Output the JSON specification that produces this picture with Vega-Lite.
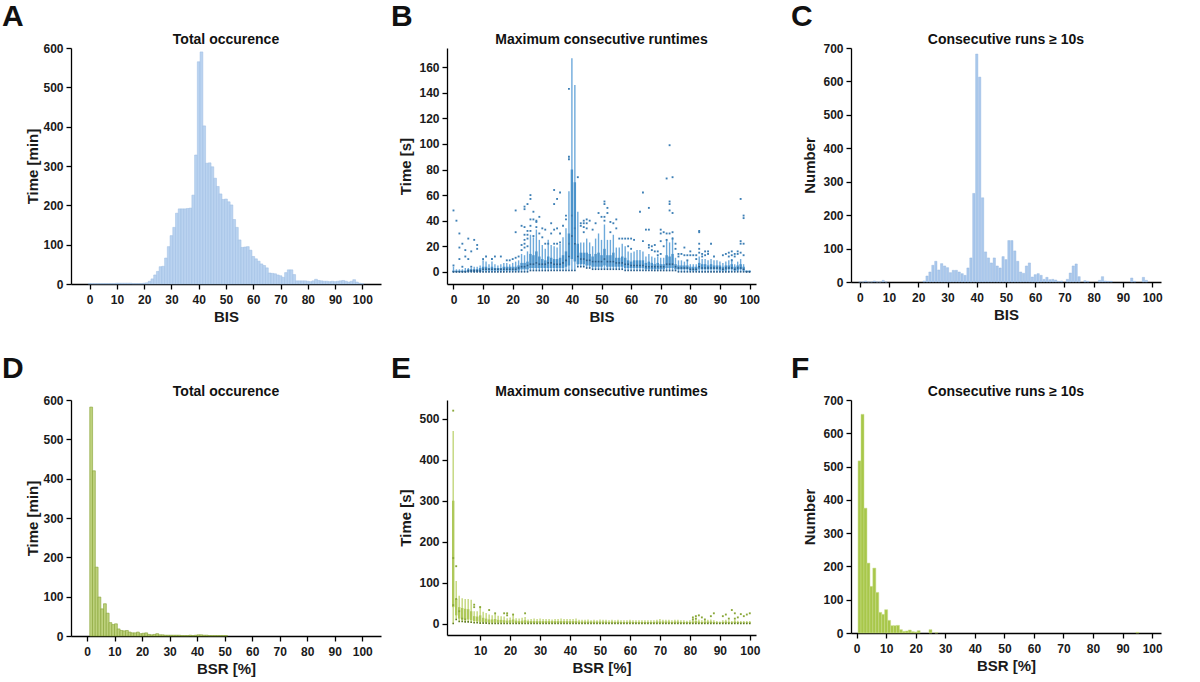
{
  "$schema": "https://vega.github.io/schema/vega-lite/v6.json",
  "background": "white",
  "padding": {"left": 1, "top": 2, "right": 5, "bottom": 5},
  "config": {
    "font": "Liberation Sans",
    "view": {"stroke": null},
    "axis": {
      "grid": false, "domainColor": "#000", "domainWidth": 1.3, "tickColor": "#000", "tickWidth": 1.3, "tickSize": 5,
      "labelFontSize": 12, "labelFontWeight": "bold", "labelColor": "#1a1a1a", "labelOverlap": false,
      "titleFontSize": 15, "titleFontWeight": "bold", "titleColor": "#1a1a1a", "labelPadding": 3
    },
    "axisX": {"labelPadding": 5, "titlePadding": 4, "labelFlush": false},
    "axisY": {"titlePadding": 5},
    "title": {"fontSize": 14, "fontWeight": "bold", "color": "#111", "offset": -5}
  },
  "datasets": {
    "a": [
      {"bis":0,"t":1},{"bis":1,"t":1},{"bis":2,"t":1},{"bis":3,"t":1},{"bis":4,"t":1},{"bis":5,"t":1},{"bis":6,"t":1},{"bis":7,"t":1},{"bis":8,"t":1},{"bis":9,"t":1},
      {"bis":10,"t":2},{"bis":11,"t":2},{"bis":12,"t":2},{"bis":13,"t":2},{"bis":14,"t":2},{"bis":15,"t":2},{"bis":16,"t":1},{"bis":17,"t":1},{"bis":18,"t":1},{"bis":19,"t":1},
      {"bis":20,"t":2},{"bis":21,"t":3},{"bis":22,"t":7},{"bis":23,"t":13},{"bis":24,"t":23},{"bis":25,"t":32},{"bis":26,"t":44},{"bis":27,"t":45},{"bis":28,"t":66},{"bis":29,"t":95},
      {"bis":30,"t":123},{"bis":31,"t":144},{"bis":32,"t":180},{"bis":33,"t":191},{"bis":34,"t":191},{"bis":35,"t":191},{"bis":36,"t":192},{"bis":37,"t":193},{"bis":38,"t":226},{"bis":39,"t":328},
      {"bis":40,"t":565},{"bis":41,"t":590},{"bis":42,"t":402},{"bis":43,"t":307},{"bis":44,"t":308},{"bis":45,"t":298},{"bis":46,"t":269},{"bis":47,"t":248},{"bis":48,"t":229},{"bis":49,"t":215},
      {"bis":50,"t":216},{"bis":51,"t":209},{"bis":52,"t":201},{"bis":53,"t":164},{"bis":54,"t":144},{"bis":55,"t":112},{"bis":56,"t":93},{"bis":57,"t":94},{"bis":58,"t":95},{"bis":59,"t":86},
      {"bis":60,"t":70},{"bis":61,"t":64},{"bis":62,"t":58},{"bis":63,"t":51},{"bis":64,"t":47},{"bis":65,"t":41},{"bis":66,"t":28},{"bis":67,"t":27},{"bis":68,"t":26},{"bis":69,"t":23},
      {"bis":70,"t":21},{"bis":71,"t":17},{"bis":72,"t":29},{"bis":73,"t":36},{"bis":74,"t":36},{"bis":75,"t":24},{"bis":76,"t":8},{"bis":77,"t":8},{"bis":78,"t":8},{"bis":79,"t":8},
      {"bis":80,"t":7},{"bis":81,"t":6},{"bis":82,"t":8},{"bis":83,"t":12},{"bis":84,"t":9},{"bis":85,"t":8},{"bis":86,"t":7},{"bis":87,"t":7},{"bis":88,"t":6},{"bis":89,"t":7},
      {"bis":90,"t":6},{"bis":91,"t":7},{"bis":92,"t":8},{"bis":93,"t":9},{"bis":94,"t":7},{"bis":95,"t":5},{"bis":96,"t":7},{"bis":97,"t":11},{"bis":98,"t":5},{"bis":99,"t":2},
      {"bis":100,"t":1}
    ],
    "b": [
      {"bis":0,"lo":0,"q1":0,"med":0,"q3":1,"hi":4},{"bis":1,"lo":0,"q1":0,"med":0,"q3":1,"hi":2},{"bis":2,"lo":0,"q1":0,"med":0,"q3":1,"hi":2},{"bis":3,"lo":0,"q1":0,"med":0,"q3":1,"hi":2},{"bis":4,"lo":0,"q1":0,"med":0,"q3":1,"hi":3},
      {"bis":5,"lo":0,"q1":0,"med":1,"q3":2,"hi":3},{"bis":6,"lo":0,"q1":0,"med":1,"q3":2,"hi":3},{"bis":7,"lo":0,"q1":0,"med":1,"q3":2,"hi":4},{"bis":8,"lo":0,"q1":0,"med":1,"q3":2,"hi":4},{"bis":9,"lo":0,"q1":0,"med":1,"q3":3,"hi":5},
      {"bis":10,"lo":0,"q1":1,"med":2,"q3":4,"hi":9},{"bis":11,"lo":0,"q1":1,"med":2,"q3":4,"hi":8},{"bis":12,"lo":0,"q1":1,"med":2,"q3":3,"hi":6},{"bis":13,"lo":0,"q1":1,"med":2,"q3":4,"hi":8},{"bis":14,"lo":0,"q1":1,"med":2,"q3":3,"hi":6},
      {"bis":15,"lo":0,"q1":1,"med":2,"q3":3,"hi":5},{"bis":16,"lo":0,"q1":1,"med":2,"q3":3,"hi":6},{"bis":17,"lo":0,"q1":1,"med":2,"q3":4,"hi":7},{"bis":18,"lo":0,"q1":1,"med":2,"q3":4,"hi":7},{"bis":19,"lo":0,"q1":1,"med":2,"q3":4,"hi":6},
      {"bis":20,"lo":0,"q1":1,"med":2,"q3":4,"hi":7},{"bis":21,"lo":0,"q1":1,"med":2,"q3":4,"hi":8},{"bis":22,"lo":0,"q1":1,"med":3,"q3":5,"hi":9},{"bis":23,"lo":0,"q1":2,"med":4,"q3":7,"hi":14},{"bis":24,"lo":0,"q1":2,"med":4,"q3":7,"hi":13},
      {"bis":25,"lo":0,"q1":2,"med":5,"q3":8,"hi":16},{"bis":26,"lo":1,"q1":3,"med":6,"q3":14,"hi":29},{"bis":27,"lo":1,"q1":3,"med":6,"q3":13,"hi":27},{"bis":28,"lo":1,"q1":3,"med":7,"q3":16,"hi":33},{"bis":29,"lo":1,"q1":3,"med":6,"q3":12,"hi":25},
      {"bis":30,"lo":1,"q1":3,"med":6,"q3":10,"hi":21},{"bis":31,"lo":1,"q1":3,"med":6,"q3":9,"hi":18},{"bis":32,"lo":1,"q1":3,"med":7,"q3":12,"hi":25},{"bis":33,"lo":1,"q1":3,"med":7,"q3":11,"hi":21},{"bis":34,"lo":1,"q1":3,"med":6,"q3":10,"hi":20},
      {"bis":35,"lo":1,"q1":3,"med":6,"q3":10,"hi":19},{"bis":36,"lo":1,"q1":3,"med":6,"q3":11,"hi":22},{"bis":37,"lo":1,"q1":3,"med":7,"q3":13,"hi":27},{"bis":38,"lo":1,"q1":4,"med":9,"q3":16,"hi":34},{"bis":39,"lo":1,"q1":5,"med":12,"q3":30,"hi":63},
      {"bis":40,"lo":1,"q1":10,"med":28,"q3":80,"hi":167},{"bis":41,"lo":1,"q1":8,"med":22,"q3":70,"hi":146},{"bis":42,"lo":4,"q1":6,"med":12,"q3":22,"hi":47},{"bis":43,"lo":4,"q1":6,"med":10,"q3":15,"hi":23},{"bis":44,"lo":4,"q1":6,"med":10,"q3":15,"hi":23},
      {"bis":45,"lo":3,"q1":5,"med":9,"q3":15,"hi":26},{"bis":46,"lo":3,"q1":5,"med":9,"q3":14,"hi":23},{"bis":47,"lo":2,"q1":4,"med":8,"q3":12,"hi":20},{"bis":48,"lo":2,"q1":4,"med":8,"q3":14,"hi":26},{"bis":49,"lo":2,"q1":4,"med":8,"q3":15,"hi":30},
      {"bis":50,"lo":2,"q1":4,"med":8,"q3":13,"hi":25},{"bis":51,"lo":2,"q1":5,"med":10,"q3":18,"hi":37},{"bis":52,"lo":2,"q1":4,"med":8,"q3":13,"hi":25},{"bis":53,"lo":2,"q1":4,"med":8,"q3":13,"hi":25},{"bis":54,"lo":2,"q1":4,"med":8,"q3":15,"hi":29},
      {"bis":55,"lo":2,"q1":4,"med":7,"q3":11,"hi":19},{"bis":56,"lo":2,"q1":4,"med":7,"q3":11,"hi":19},{"bis":57,"lo":2,"q1":4,"med":7,"q3":12,"hi":22},{"bis":58,"lo":1,"q1":3,"med":6,"q3":11,"hi":20},{"bis":59,"lo":1,"q1":3,"med":6,"q3":9,"hi":16},
      {"bis":60,"lo":1,"q1":3,"med":5,"q3":8,"hi":15},{"bis":61,"lo":1,"q1":3,"med":5,"q3":9,"hi":16},{"bis":62,"lo":1,"q1":3,"med":5,"q3":9,"hi":17},{"bis":63,"lo":1,"q1":3,"med":5,"q3":9,"hi":17},{"bis":64,"lo":1,"q1":3,"med":5,"q3":9,"hi":16},
      {"bis":65,"lo":1,"q1":2,"med":4,"q3":7,"hi":12},{"bis":66,"lo":1,"q1":2,"med":4,"q3":8,"hi":14},{"bis":67,"lo":1,"q1":2,"med":4,"q3":7,"hi":12},{"bis":68,"lo":1,"q1":2,"med":4,"q3":6,"hi":11},{"bis":69,"lo":1,"q1":2,"med":4,"q3":7,"hi":12},
      {"bis":70,"lo":1,"q1":2,"med":4,"q3":6,"hi":11},{"bis":71,"lo":1,"q1":2,"med":4,"q3":6,"hi":11},{"bis":72,"lo":1,"q1":3,"med":6,"q3":13,"hi":25},{"bis":73,"lo":1,"q1":3,"med":6,"q3":12,"hi":23},{"bis":74,"lo":1,"q1":3,"med":6,"q3":14,"hi":27},
      {"bis":75,"lo":1,"q1":2,"med":4,"q3":6,"hi":11},{"bis":76,"lo":0,"q1":2,"med":3,"q3":5,"hi":9},{"bis":77,"lo":0,"q1":2,"med":3,"q3":5,"hi":9},{"bis":78,"lo":0,"q1":2,"med":3,"q3":5,"hi":8},{"bis":79,"lo":0,"q1":2,"med":3,"q3":5,"hi":9},
      {"bis":80,"lo":0,"q1":1,"med":2,"q3":4,"hi":6},{"bis":81,"lo":0,"q1":1,"med":2,"q3":4,"hi":6},{"bis":82,"lo":0,"q1":1,"med":2,"q3":4,"hi":6},{"bis":83,"lo":0,"q1":2,"med":4,"q3":7,"hi":12},{"bis":84,"lo":0,"q1":2,"med":3,"q3":6,"hi":10},
      {"bis":85,"lo":0,"q1":2,"med":3,"q3":6,"hi":10},{"bis":86,"lo":0,"q1":2,"med":3,"q3":5,"hi":9},{"bis":87,"lo":0,"q1":2,"med":3,"q3":6,"hi":10},{"bis":88,"lo":0,"q1":2,"med":3,"q3":5,"hi":9},{"bis":89,"lo":0,"q1":2,"med":3,"q3":5,"hi":9},
      {"bis":90,"lo":0,"q1":1,"med":3,"q3":5,"hi":8},{"bis":91,"lo":0,"q1":1,"med":2,"q3":4,"hi":7},{"bis":92,"lo":0,"q1":1,"med":3,"q3":5,"hi":8},{"bis":93,"lo":0,"q1":2,"med":3,"q3":5,"hi":9},{"bis":94,"lo":0,"q1":2,"med":3,"q3":6,"hi":10},
      {"bis":95,"lo":0,"q1":1,"med":2,"q3":4,"hi":6},{"bis":96,"lo":0,"q1":1,"med":3,"q3":5,"hi":8},{"bis":97,"lo":0,"q1":2,"med":3,"q3":6,"hi":10},{"bis":98,"lo":0,"q1":1,"med":2,"q3":4,"hi":6},{"bis":99,"lo":0,"q1":0,"med":0,"q3":1,"hi":1},
      {"bis":100,"lo":0,"q1":0,"med":0,"q3":1,"hi":1}
    ],
    "bout": [
      {"bis":0,"t":48},{"bis":0,"t":5},{"bis":1,"t":40},{"bis":2,"t":30},{"bis":2,"t":19},{"bis":2,"t":10},{"bis":3,"t":22},{"bis":3,"t":4},{"bis":4,"t":17},{"bis":4,"t":12},
      {"bis":5,"t":26},{"bis":5,"t":10},{"bis":6,"t":16},{"bis":6,"t":4},{"bis":7,"t":25},{"bis":8,"t":21},{"bis":8,"t":18},{"bis":10,"t":10},{"bis":11,"t":12},{"bis":13,"t":10},
      {"bis":14,"t":12},{"bis":16,"t":12},{"bis":18,"t":9},{"bis":19,"t":9},{"bis":20,"t":10},{"bis":21,"t":48},{"bis":21,"t":31},{"bis":21,"t":11},{"bis":22,"t":12},
      {"bis":23,"t":36},{"bis":23,"t":21},{"bis":23,"t":17},{"bis":24,"t":51},{"bis":24,"t":49},{"bis":24,"t":35},{"bis":24,"t":29},{"bis":24,"t":25},{"bis":24,"t":22},{"bis":24,"t":19},
      {"bis":25,"t":53},{"bis":25,"t":32},{"bis":25,"t":29},{"bis":25,"t":26},{"bis":25,"t":20},{"bis":26,"t":60},{"bis":26,"t":57},{"bis":26,"t":41},{"bis":26,"t":36},{"bis":26,"t":32},
      {"bis":27,"t":47},{"bis":27,"t":41},{"bis":27,"t":28},{"bis":28,"t":40},{"bis":28,"t":39},{"bis":28,"t":35},{"bis":29,"t":43},{"bis":29,"t":30},{"bis":30,"t":34},{"bis":30,"t":27},
      {"bis":31,"t":33},{"bis":31,"t":22},{"bis":32,"t":22},{"bis":33,"t":38},{"bis":33,"t":30},{"bis":34,"t":64},{"bis":34,"t":53},{"bis":34,"t":33},{"bis":34,"t":22},
      {"bis":35,"t":57},{"bis":35,"t":34},{"bis":35,"t":22},{"bis":36,"t":62},{"bis":36,"t":30},{"bis":36,"t":23},{"bis":37,"t":36},{"bis":38,"t":44},{"bis":38,"t":41},
      {"bis":39,"t":143},{"bis":39,"t":90},{"bis":39,"t":88},{"bis":39,"t":22},{"bis":40,"t":44},{"bis":41,"t":34},{"bis":42,"t":74},{"bis":43,"t":38},{"bis":43,"t":36},
      {"bis":44,"t":40},{"bis":44,"t":38},{"bis":44,"t":35},{"bis":44,"t":31},{"bis":45,"t":41},{"bis":45,"t":38},{"bis":45,"t":34},{"bis":46,"t":40},{"bis":47,"t":33},{"bis":48,"t":38},
      {"bis":49,"t":46},{"bis":50,"t":43},{"bis":51,"t":55},{"bis":51,"t":53},{"bis":51,"t":43},{"bis":51,"t":40},{"bis":52,"t":50},{"bis":52,"t":46},{"bis":53,"t":39},{"bis":53,"t":31},
      {"bis":54,"t":38},{"bis":55,"t":41},{"bis":55,"t":34},{"bis":56,"t":26},{"bis":57,"t":26},{"bis":58,"t":26},{"bis":59,"t":26},{"bis":59,"t":20},{"bis":60,"t":26},{"bis":60,"t":18},
      {"bis":61,"t":25},{"bis":63,"t":47},{"bis":64,"t":62},{"bis":64,"t":24},{"bis":65,"t":33},{"bis":66,"t":50},{"bis":66,"t":33},{"bis":66,"t":21},{"bis":66,"t":19},
      {"bis":67,"t":20},{"bis":67,"t":17},{"bis":68,"t":21},{"bis":68,"t":16},{"bis":69,"t":16},{"bis":69,"t":13},{"bis":70,"t":33},{"bis":70,"t":30},{"bis":70,"t":24},{"bis":70,"t":14},
      {"bis":71,"t":31},{"bis":71,"t":20},{"bis":72,"t":73},{"bis":72,"t":30},{"bis":72,"t":25},{"bis":73,"t":99},{"bis":73,"t":55},{"bis":73,"t":53},{"bis":73,"t":48},{"bis":73,"t":30},
      {"bis":74,"t":74},{"bis":74,"t":46},{"bis":74,"t":31},{"bis":74,"t":26},{"bis":75,"t":22},{"bis":75,"t":18},{"bis":76,"t":14},{"bis":76,"t":12},{"bis":77,"t":14},
      {"bis":78,"t":19},{"bis":78,"t":13},{"bis":79,"t":13},{"bis":79,"t":9},{"bis":80,"t":16},{"bis":80,"t":13},{"bis":81,"t":13},{"bis":82,"t":13},{"bis":82,"t":10},
      {"bis":83,"t":32},{"bis":83,"t":31},{"bis":83,"t":22},{"bis":83,"t":18},{"bis":83,"t":15},{"bis":84,"t":14},{"bis":84,"t":12},{"bis":85,"t":16},{"bis":85,"t":13},{"bis":86,"t":16},{"bis":86,"t":14},
      {"bis":87,"t":22},{"bis":88,"t":12},{"bis":91,"t":13},{"bis":92,"t":14},{"bis":93,"t":15},{"bis":93,"t":12},{"bis":94,"t":16},{"bis":94,"t":13},{"bis":94,"t":9},
      {"bis":95,"t":14},{"bis":95,"t":12},{"bis":96,"t":16},{"bis":96,"t":14},{"bis":97,"t":57},{"bis":97,"t":24},{"bis":97,"t":22},{"bis":97,"t":15},
      {"bis":98,"t":44},{"bis":98,"t":42},{"bis":98,"t":22},{"bis":98,"t":13}
    ],
    "c": [
      {"bis":0,"n":0},{"bis":1,"n":0},{"bis":2,"n":3},{"bis":3,"n":0},{"bis":4,"n":0},{"bis":5,"n":3},{"bis":6,"n":0},{"bis":7,"n":0},{"bis":8,"n":5},{"bis":9,"n":0},
      {"bis":22,"n":3},{"bis":23,"n":18},{"bis":24,"n":30},{"bis":25,"n":50},{"bis":26,"n":62},{"bis":27,"n":36},{"bis":28,"n":55},{"bis":29,"n":48},
      {"bis":30,"n":43},{"bis":31,"n":28},{"bis":32,"n":35},{"bis":33,"n":35},{"bis":34,"n":30},{"bis":35,"n":25},{"bis":36,"n":20},{"bis":37,"n":42},{"bis":38,"n":72},{"bis":39,"n":265},
      {"bis":40,"n":682},{"bis":41,"n":613},{"bis":42,"n":252},{"bis":43,"n":90},{"bis":44,"n":72},{"bis":45,"n":57},{"bis":46,"n":72},{"bis":47,"n":48},{"bis":48,"n":42},{"bis":49,"n":76},
      {"bis":50,"n":67},{"bis":51,"n":124},{"bis":52,"n":124},{"bis":53,"n":93},{"bis":54,"n":62},{"bis":55,"n":30},{"bis":56,"n":26},{"bis":57,"n":48},{"bis":58,"n":57},{"bis":59,"n":15},
      {"bis":60,"n":22},{"bis":61,"n":25},{"bis":62,"n":20},{"bis":63,"n":8},{"bis":64,"n":14},{"bis":65,"n":7},{"bis":66,"n":8},{"bis":67,"n":6},{"bis":68,"n":2},{"bis":69,"n":3},
      {"bis":71,"n":8},{"bis":72,"n":27},{"bis":73,"n":48},{"bis":74,"n":54},{"bis":75,"n":16},{"bis":77,"n":4},{"bis":78,"n":2},
      {"bis":82,"n":5},{"bis":83,"n":16},{"bis":84,"n":3},{"bis":85,"n":2},{"bis":86,"n":2},
      {"bis":93,"n":12},{"bis":94,"n":2},{"bis":97,"n":14},{"bis":98,"n":5}
    ],
    "d": [
      {"bsr":1,"t":582},{"bsr":2,"t":420},{"bsr":3,"t":175},{"bsr":4,"t":99},{"bsr":5,"t":69},{"bsr":6,"t":82},{"bsr":7,"t":58},{"bsr":8,"t":34},{"bsr":9,"t":29},{"bsr":10,"t":31},
      {"bsr":11,"t":18},{"bsr":12,"t":14},{"bsr":13,"t":13},{"bsr":14,"t":14},{"bsr":15,"t":10},{"bsr":16,"t":8},{"bsr":17,"t":8},{"bsr":18,"t":10},{"bsr":19,"t":6},{"bsr":20,"t":7},
      {"bsr":21,"t":8},{"bsr":22,"t":4},{"bsr":23,"t":3},{"bsr":24,"t":4},{"bsr":25,"t":6},{"bsr":26,"t":3},{"bsr":27,"t":3},{"bsr":28,"t":2},{"bsr":29,"t":2},{"bsr":30,"t":2},
      {"bsr":31,"t":2},{"bsr":32,"t":2},{"bsr":33,"t":2},{"bsr":34,"t":1},{"bsr":35,"t":1},{"bsr":36,"t":1},{"bsr":37,"t":2},{"bsr":38,"t":1},{"bsr":39,"t":2},{"bsr":40,"t":3},
      {"bsr":41,"t":3},{"bsr":42,"t":2},{"bsr":43,"t":2},{"bsr":44,"t":1},{"bsr":45,"t":1},{"bsr":46,"t":1},{"bsr":47,"t":1},{"bsr":48,"t":1},{"bsr":49,"t":1},{"bsr":50,"t":1}
    ],
    "e": [
      {"bsr":1,"lo":0,"q1":40,"med":150,"q3":300,"hi":470},{"bsr":2,"lo":10,"q1":20,"med":35,"q3":60,"hi":104},{"bsr":3,"lo":5,"q1":12,"med":20,"q3":40,"hi":68},{"bsr":4,"lo":5,"q1":10,"med":18,"q3":38,"hi":62},{"bsr":5,"lo":4,"q1":10,"med":17,"q3":36,"hi":60},
      {"bsr":6,"lo":4,"q1":10,"med":17,"q3":35,"hi":60},{"bsr":7,"lo":3,"q1":8,"med":14,"q3":30,"hi":58},{"bsr":8,"lo":2,"q1":6,"med":10,"q3":18,"hi":30},{"bsr":9,"lo":2,"q1":5,"med":9,"q3":17,"hi":30},{"bsr":10,"lo":1,"q1":4,"med":8,"q3":20,"hi":43},
      {"bsr":11,"lo":1,"q1":3,"med":6,"q3":14,"hi":29},{"bsr":12,"lo":1,"q1":3,"med":6,"q3":12,"hi":26},{"bsr":13,"lo":0,"q1":2,"med":5,"q3":10,"hi":22},{"bsr":14,"lo":0,"q1":2,"med":5,"q3":10,"hi":20},{"bsr":15,"lo":0,"q1":2,"med":5,"q3":11,"hi":23},
      {"bsr":16,"lo":0,"q1":2,"med":4,"q3":9,"hi":19},{"bsr":17,"lo":0,"q1":2,"med":4,"q3":9,"hi":18},{"bsr":18,"lo":0,"q1":2,"med":4,"q3":8,"hi":17},{"bsr":19,"lo":0,"q1":2,"med":3,"q3":7,"hi":13},{"bsr":20,"lo":0,"q1":2,"med":4,"q3":8,"hi":15},
      {"bsr":21,"lo":0,"q1":2,"med":5,"q3":10,"hi":23},{"bsr":22,"lo":0,"q1":1,"med":3,"q3":7,"hi":13},{"bsr":23,"lo":0,"q1":1,"med":3,"q3":6,"hi":12},{"bsr":24,"lo":0,"q1":1,"med":3,"q3":7,"hi":14},{"bsr":25,"lo":0,"q1":2,"med":4,"q3":8,"hi":16},
      {"bsr":26,"lo":0,"q1":1,"med":3,"q3":6,"hi":10},{"bsr":27,"lo":0,"q1":1,"med":3,"q3":6,"hi":11},{"bsr":28,"lo":0,"q1":1,"med":3,"q3":6,"hi":12},{"bsr":29,"lo":0,"q1":1,"med":3,"q3":6,"hi":11},{"bsr":30,"lo":0,"q1":1,"med":3,"q3":6,"hi":12},
      {"bsr":31,"lo":0,"q1":1,"med":3,"q3":6,"hi":11},{"bsr":32,"lo":0,"q1":1,"med":3,"q3":6,"hi":11},{"bsr":33,"lo":0,"q1":1,"med":3,"q3":6,"hi":11},{"bsr":34,"lo":0,"q1":1,"med":3,"q3":6,"hi":10},{"bsr":35,"lo":0,"q1":1,"med":3,"q3":6,"hi":11},
      {"bsr":36,"lo":0,"q1":1,"med":3,"q3":6,"hi":11},{"bsr":37,"lo":0,"q1":1,"med":3,"q3":6,"hi":12},{"bsr":38,"lo":0,"q1":1,"med":3,"q3":6,"hi":11},{"bsr":39,"lo":0,"q1":1,"med":3,"q3":6,"hi":11},{"bsr":40,"lo":0,"q1":1,"med":3,"q3":6,"hi":11},
      {"bsr":41,"lo":0,"q1":1,"med":3,"q3":6,"hi":11},{"bsr":42,"lo":0,"q1":1,"med":3,"q3":6,"hi":12},{"bsr":43,"lo":0,"q1":1,"med":3,"q3":5,"hi":9},{"bsr":44,"lo":0,"q1":1,"med":3,"q3":5,"hi":9},{"bsr":45,"lo":0,"q1":1,"med":3,"q3":5,"hi":9},
      {"bsr":46,"lo":0,"q1":1,"med":3,"q3":5,"hi":10},{"bsr":47,"lo":0,"q1":1,"med":2,"q3":5,"hi":8},{"bsr":48,"lo":0,"q1":1,"med":3,"q3":5,"hi":9},{"bsr":49,"lo":0,"q1":1,"med":2,"q3":5,"hi":8},{"bsr":50,"lo":0,"q1":1,"med":3,"q3":5,"hi":10},
      {"bsr":51,"lo":0,"q1":1,"med":2,"q3":5,"hi":9},{"bsr":52,"lo":0,"q1":1,"med":2,"q3":5,"hi":9},{"bsr":53,"lo":0,"q1":1,"med":2,"q3":4,"hi":8},{"bsr":54,"lo":0,"q1":1,"med":2,"q3":5,"hi":9},{"bsr":55,"lo":0,"q1":1,"med":2,"q3":4,"hi":8},
      {"bsr":56,"lo":0,"q1":1,"med":2,"q3":5,"hi":9},{"bsr":57,"lo":0,"q1":1,"med":2,"q3":4,"hi":8},{"bsr":58,"lo":0,"q1":1,"med":2,"q3":4,"hi":8},{"bsr":59,"lo":0,"q1":1,"med":2,"q3":4,"hi":8},{"bsr":60,"lo":0,"q1":1,"med":2,"q3":5,"hi":9},
      {"bsr":61,"lo":0,"q1":1,"med":2,"q3":4,"hi":8},{"bsr":62,"lo":0,"q1":1,"med":2,"q3":4,"hi":8},{"bsr":63,"lo":0,"q1":1,"med":2,"q3":4,"hi":8},{"bsr":64,"lo":0,"q1":1,"med":2,"q3":4,"hi":8},{"bsr":65,"lo":0,"q1":1,"med":2,"q3":4,"hi":8},
      {"bsr":66,"lo":0,"q1":1,"med":2,"q3":4,"hi":8},{"bsr":67,"lo":0,"q1":1,"med":2,"q3":4,"hi":8},{"bsr":68,"lo":0,"q1":1,"med":2,"q3":4,"hi":8},{"bsr":69,"lo":0,"q1":1,"med":2,"q3":5,"hi":9},{"bsr":70,"lo":0,"q1":1,"med":3,"q3":5,"hi":11},
      {"bsr":71,"lo":0,"q1":1,"med":2,"q3":5,"hi":9},{"bsr":72,"lo":0,"q1":1,"med":2,"q3":5,"hi":9},{"bsr":73,"lo":0,"q1":1,"med":2,"q3":5,"hi":9},{"bsr":74,"lo":0,"q1":1,"med":2,"q3":4,"hi":8},{"bsr":75,"lo":0,"q1":1,"med":2,"q3":5,"hi":9},
      {"bsr":76,"lo":0,"q1":1,"med":2,"q3":5,"hi":9},{"bsr":77,"lo":0,"q1":1,"med":2,"q3":4,"hi":8},{"bsr":78,"lo":0,"q1":1,"med":2,"q3":4,"hi":8},{"bsr":79,"lo":0,"q1":1,"med":2,"q3":4,"hi":7},{"bsr":80,"lo":0,"q1":1,"med":2,"q3":4,"hi":8},
      {"bsr":81,"lo":0,"q1":1,"med":2,"q3":5,"hi":10},{"bsr":82,"lo":0,"q1":1,"med":3,"q3":6,"hi":12},{"bsr":83,"lo":0,"q1":1,"med":2,"q3":5,"hi":10},{"bsr":84,"lo":0,"q1":1,"med":2,"q3":4,"hi":8},{"bsr":85,"lo":0,"q1":1,"med":2,"q3":5,"hi":10},
      {"bsr":86,"lo":0,"q1":1,"med":2,"q3":5,"hi":9},{"bsr":87,"lo":0,"q1":1,"med":2,"q3":5,"hi":10},{"bsr":88,"lo":0,"q1":1,"med":2,"q3":4,"hi":8},{"bsr":89,"lo":0,"q1":1,"med":2,"q3":3,"hi":6},{"bsr":90,"lo":0,"q1":1,"med":2,"q3":3,"hi":5},
      {"bsr":91,"lo":0,"q1":1,"med":2,"q3":4,"hi":8},{"bsr":92,"lo":0,"q1":1,"med":2,"q3":5,"hi":9},{"bsr":93,"lo":0,"q1":1,"med":2,"q3":4,"hi":8},{"bsr":94,"lo":0,"q1":1,"med":2,"q3":3,"hi":6},{"bsr":95,"lo":0,"q1":1,"med":2,"q3":5,"hi":9},
      {"bsr":96,"lo":0,"q1":1,"med":2,"q3":4,"hi":7},{"bsr":97,"lo":0,"q1":1,"med":2,"q3":3,"hi":6},{"bsr":98,"lo":0,"q1":1,"med":2,"q3":3,"hi":6},{"bsr":99,"lo":0,"q1":1,"med":2,"q3":3,"hi":6},{"bsr":100,"lo":0,"q1":1,"med":2,"q3":3,"hi":6}
    ],
    "eout": [
      {"bsr":1,"t":520},{"bsr":1,"t":160},{"bsr":1,"t":45},{"bsr":2,"t":140},{"bsr":2,"t":60},{"bsr":3,"t":30},{"bsr":4,"t":12},{"bsr":5,"t":10},
      {"bsr":8,"t":46},{"bsr":8,"t":40},{"bsr":10,"t":40},{"bsr":13,"t":33},{"bsr":15,"t":25},{"bsr":18,"t":25},{"bsr":19,"t":25},{"bsr":19,"t":20},{"bsr":21,"t":22},{"bsr":25,"t":25},
      {"bsr":81,"t":15},{"bsr":81,"t":10},{"bsr":82,"t":18},{"bsr":82,"t":12},{"bsr":83,"t":20},{"bsr":84,"t":15},{"bsr":85,"t":10},{"bsr":87,"t":18},{"bsr":88,"t":25},
      {"bsr":91,"t":18},{"bsr":92,"t":22},{"bsr":93,"t":12},{"bsr":94,"t":33},{"bsr":95,"t":25},{"bsr":95,"t":12},{"bsr":96,"t":15},{"bsr":97,"t":23},{"bsr":98,"t":18},{"bsr":99,"t":22},{"bsr":100,"t":25}
    ],
    "f": [
      {"bsr":1,"n":517},{"bsr":2,"n":657},{"bsr":3,"n":375},{"bsr":4,"n":210},{"bsr":5,"n":140},{"bsr":6,"n":195},{"bsr":7,"n":122},{"bsr":8,"n":62},{"bsr":9,"n":56},{"bsr":10,"n":70},
      {"bsr":11,"n":38},{"bsr":12,"n":22},{"bsr":13,"n":22},{"bsr":14,"n":23},{"bsr":15,"n":10},{"bsr":16,"n":5},{"bsr":17,"n":6},{"bsr":18,"n":9},{"bsr":19,"n":4},{"bsr":20,"n":3},
      {"bsr":21,"n":7},{"bsr":25,"n":10},{"bsr":27,"n":1},{"bsr":95,"n":2}
    ]
  },
  "vconcat": [
    {
      "spacing": 9,
      "hconcat": [
        {
          "title": {"text": "A", "anchor": "start", "frame": "bounds", "fontSize": 30, "offset": 1, "dx": -24},
          "vconcat": [
            {
              "title": "Total occurence",
              "width": 310, "height": 236,
              "data": {"name": "a"},
              "mark": {"type": "bar", "size": 2.8, "fill": "#bad3f0", "stroke": "#9dbde3", "strokeWidth": 0.5},
              "encoding": {
                "x": {"field": "bis", "type": "quantitative", "title": "BIS", "scale": {"domain": [-5, 105], "nice": false, "zero": false}, "axis": {"values": [0,10,20,30,40,50,60,70,80,90,100]}},
                "y": {"field": "t", "type": "quantitative", "title": "Time [min]", "scale": {"domain": [0, 600], "nice": false}, "axis": {"values": [0,100,200,300,400,500,600], "titlePadding": 2}}
              }
            }
          ]
        },
        {
          "spacing": 30,
          "hconcat": [
            {
              "title": {"text": "B", "anchor": "start", "frame": "bounds", "fontSize": 30, "offset": 1, "dx": -8},
              "vconcat": [
                {
                  "title": {"text": "Maximum consecutive runtimes", "offset": 1},
                  "width": 309, "height": 236,
                  "layer": [
                    {
                      "data": {"name": "b"},
                      "mark": {"type": "rule", "color": "#6eaadb", "strokeWidth": 1.4},
                      "encoding": {
                        "x": {"field": "bis", "type": "quantitative", "title": "BIS", "scale": {"domain": [-0.5, 100.5], "nice": false, "zero": false}, "axis": {"values": [0,10,20,30,40,50,60,70,80,90,100]}},
                        "y": {"field": "lo", "type": "quantitative", "title": "Time [s]", "scale": {"domain": [-9.5, 175], "nice": false, "zero": false}, "axis": {"values": [0,20,40,60,80,100,120,140,160]}},
                        "y2": {"field": "hi"}
                      }
                    },
                    {
                      "data": {"name": "b"},
                      "mark": {"type": "bar", "size": 2.4, "color": "#4b93cb"},
                      "encoding": {
                        "x": {"field": "bis", "type": "quantitative", "title": "BIS", "scale": {"domain": [-0.5, 100.5], "nice": false, "zero": false}, "axis": {"values": [0,10,20,30,40,50,60,70,80,90,100]}},
                        "y": {"field": "q1", "type": "quantitative", "title": "Time [s]", "scale": {"domain": [-9.5, 175], "nice": false, "zero": false}, "axis": {"values": [0,20,40,60,80,100,120,140,160]}},
                        "y2": {"field": "q3"}
                      }
                    },
                    {
                      "data": {"name": "b"},
                      "mark": {"type": "square", "size": 2.5, "color": "#2a5d8a", "opacity": 1},
                      "encoding": {
                        "x": {"field": "bis", "type": "quantitative", "title": "BIS", "scale": {"domain": [-0.5, 100.5], "nice": false, "zero": false}, "axis": {"values": [0,10,20,30,40,50,60,70,80,90,100]}},
                        "y": {"field": "med", "type": "quantitative", "title": "Time [s]", "scale": {"domain": [-9.5, 175], "nice": false, "zero": false}, "axis": {"values": [0,20,40,60,80,100,120,140,160]}}
                      }
                    },
                    {
                      "data": {"name": "b"},
                      "mark": {"type": "square", "size": 2.5, "color": "#2a5d8a", "opacity": 1},
                      "encoding": {
                        "x": {"field": "bis", "type": "quantitative", "title": "BIS", "scale": {"domain": [-0.5, 100.5], "nice": false, "zero": false}, "axis": {"values": [0,10,20,30,40,50,60,70,80,90,100]}},
                        "y": {"field": "lo", "type": "quantitative", "title": "Time [s]", "scale": {"domain": [-9.5, 175], "nice": false, "zero": false}, "axis": {"values": [0,20,40,60,80,100,120,140,160]}}
                      }
                    },
                    {
                      "data": {"name": "bout"},
                      "mark": {"type": "square", "size": 3.5, "color": "#3d7fb5", "opacity": 1},
                      "encoding": {
                        "x": {"field": "bis", "type": "quantitative", "title": "BIS", "scale": {"domain": [-0.5, 100.5], "nice": false, "zero": false}, "axis": {"values": [0,10,20,30,40,50,60,70,80,90,100]}},
                        "y": {"field": "t", "type": "quantitative", "title": "Time [s]", "scale": {"domain": [-9.5, 175], "nice": false, "zero": false}, "axis": {"values": [0,20,40,60,80,100,120,140,160]}}
                      }
                    }
                  ]
                }
              ]
            },
            {
              "title": {"text": "C", "anchor": "start", "frame": "bounds", "fontSize": 30, "offset": 1, "dx": -12},
              "vconcat": [
                {
                  "title": "Consecutive runs ≥ 10s",
                  "width": 310, "height": 234,
                  "data": {"name": "c"},
                  "mark": {"type": "bar", "size": 2.3, "fill": "#aac8ec", "stroke": "#8fb3de", "strokeWidth": 0.4},
                  "encoding": {
                    "x": {"field": "bis", "type": "quantitative", "title": "BIS", "scale": {"domain": [-1.3, 101.3], "nice": false, "zero": false}, "axis": {"values": [0,10,20,30,40,50,60,70,80,90,100]}},
                    "y": {"field": "n", "type": "quantitative", "title": "Number", "scale": {"domain": [0, 700], "nice": false}, "axis": {"values": [0,100,200,300,400,500,600,700]}}
                  }
                }
              ]
            }
          ]
        }
      ]
    },
    {
      "spacing": 9,
      "hconcat": [
        {
          "title": {"text": "D", "anchor": "start", "frame": "bounds", "fontSize": 30, "offset": 1, "dx": -24},
          "vconcat": [
            {
              "title": "Total occurence",
              "width": 310, "height": 236,
              "data": {"name": "d"},
              "mark": {"type": "bar", "size": 2.84, "xOffset": 1.4, "fill": "#bdd17c", "stroke": "#86a234", "strokeWidth": 0.6},
              "encoding": {
                "x": {"field": "bsr", "type": "quantitative", "title": "BSR [%]", "scale": {"domain": [-4, 105], "nice": false, "zero": false}, "axis": {"values": [0,10,20,30,40,50,60,70,80,90,100]}},
                "y": {"field": "t", "type": "quantitative", "title": "Time [min]", "scale": {"domain": [0, 600], "nice": false}, "axis": {"values": [0,100,200,300,400,500,600], "titlePadding": 2}}
              }
            }
          ]
        },
        {
          "spacing": 30,
          "hconcat": [
            {
              "title": {"text": "E", "anchor": "start", "frame": "bounds", "fontSize": 30, "offset": 1, "dx": -8},
              "vconcat": [
                {
                  "title": {"text": "Maximum consecutive runtimes", "offset": 1},
                  "width": 309, "height": 235,
                  "layer": [
                    {
                      "data": {"name": "e"},
                      "mark": {"type": "rule", "color": "#c2d67a", "strokeWidth": 1.4},
                      "encoding": {
                        "x": {"field": "bsr", "type": "quantitative", "title": "BSR [%]", "scale": {"domain": [0.6, 100.4], "nice": false, "zero": false}, "axis": {"values": [10,20,30,40,50,60,70,80,90,100]}},
                        "y": {"field": "lo", "type": "quantitative", "title": "Time [s]", "scale": {"domain": [-28, 546], "nice": false, "zero": false}, "axis": {"values": [0,100,200,300,400,500]}},
                        "y2": {"field": "hi"}
                      }
                    },
                    {
                      "data": {"name": "e"},
                      "mark": {"type": "bar", "size": 2.4, "color": "#aec85a"},
                      "encoding": {
                        "x": {"field": "bsr", "type": "quantitative", "title": "BSR [%]", "scale": {"domain": [0.6, 100.4], "nice": false, "zero": false}, "axis": {"values": [10,20,30,40,50,60,70,80,90,100]}},
                        "y": {"field": "q1", "type": "quantitative", "title": "Time [s]", "scale": {"domain": [-28, 546], "nice": false, "zero": false}, "axis": {"values": [0,100,200,300,400,500]}},
                        "y2": {"field": "q3"}
                      }
                    },
                    {
                      "data": {"name": "e"},
                      "mark": {"type": "square", "size": 2.5, "color": "#5f7a22", "opacity": 1},
                      "encoding": {
                        "x": {"field": "bsr", "type": "quantitative", "title": "BSR [%]", "scale": {"domain": [0.6, 100.4], "nice": false, "zero": false}, "axis": {"values": [10,20,30,40,50,60,70,80,90,100]}},
                        "y": {"field": "lo", "type": "quantitative", "title": "Time [s]", "scale": {"domain": [-28, 546], "nice": false, "zero": false}, "axis": {"values": [0,100,200,300,400,500]}}
                      }
                    },
                    {
                      "data": {"name": "eout"},
                      "mark": {"type": "square", "size": 3.5, "color": "#8aa83a", "opacity": 1},
                      "encoding": {
                        "x": {"field": "bsr", "type": "quantitative", "title": "BSR [%]", "scale": {"domain": [0.6, 100.4], "nice": false, "zero": false}, "axis": {"values": [10,20,30,40,50,60,70,80,90,100]}},
                        "y": {"field": "t", "type": "quantitative", "title": "Time [s]", "scale": {"domain": [-28, 546], "nice": false, "zero": false}, "axis": {"values": [0,100,200,300,400,500]}}
                      }
                    }
                  ]
                }
              ]
            },
            {
              "title": {"text": "F", "anchor": "start", "frame": "bounds", "fontSize": 30, "offset": 1, "dx": -12},
              "vconcat": [
                {
                  "title": "Consecutive runs ≥ 10s",
                  "width": 310, "height": 233,
                  "data": {"name": "f"},
                  "mark": {"type": "bar", "size": 3, "fill": "#a8c74a", "stroke": "#c9dc8a", "strokeWidth": 0.5},
                  "encoding": {
                    "x": {"field": "bsr", "type": "quantitative", "title": "BSR [%]", "scale": {"domain": [-0.2, 101.3], "nice": false, "zero": false}, "axis": {"values": [0,10,20,30,40,50,60,70,80,90,100]}},
                    "y": {"field": "n", "type": "quantitative", "title": "Number", "scale": {"domain": [0, 700], "nice": false}, "axis": {"values": [0,100,200,300,400,500,600,700]}}
                  }
                }
              ]
            }
          ]
        }
      ]
    }
  ],
  "spacing": 30
}
